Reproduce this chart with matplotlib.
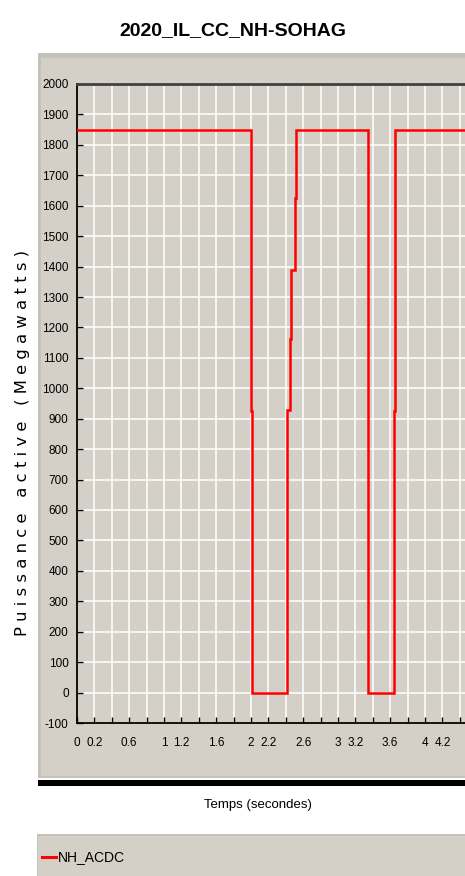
import numpy as np
import matplotlib
matplotlib.use('Agg')
import matplotlib.pyplot as plt
from matplotlib.patches import Rectangle
from matplotlib.lines import Line2D

# data (breakpoints of the step trace)
temps = [0.0, 2.000, 2.000, 2.008, 2.008, 2.410, 2.410, 2.418, 2.418, 2.441, 2.448,
         2.448, 2.456, 2.456, 2.506, 2.506, 2.521, 2.521, 3.341, 3.341, 3.347,
         3.347, 3.644, 3.644, 3.652, 3.652, 4.46]
puissance = [1850, 1850, 925, 925, 0, 0, 466, 466, 930, 930, 930,
             1162, 1162, 1390, 1390, 1625, 1625, 1850, 1850, 925, 925,
             0, 0, 925, 925, 1850, 1850]

y_ticks = list(range(-100, 2001, 100))
x_ticks = [round(0.2 * i, 1) for i in range(23)]
x_shown = ['0', '0.2', '0.6', '1', '1.2', '1.6', '2', '2.2', '2.6', '3', '3.2', '3.6', '4', '4.2']

titre = '2020_IL_CC_NH-SOHAG'
ylabel = 'Puissance active (Megawatts)'
xlabel = 'Temps (secondes)'
serie = 'NH_ACDC'

plt.rcParams['font.family'] = ['Liberation Sans', 'DejaVu Sans']

W, H = 465, 876
gris = '#d4d0c8'

fig = plt.figure(figsize=(W / 100, H / 100), dpi=100)
fig.patch.set_facecolor('white')

def fx(px):
    return px / W

def fy(py):
    return 1 - py / H

def fond(x0, y0, x1, y1, couleur):
    fig.patches.append(Rectangle((fx(x0), fy(y1)), fx(x1) - fx(x0), fy(y0) - fy(y1),
                                 transform=fig.transFigure, facecolor=couleur,
                                 edgecolor='none', zorder=-5))

# grey panel behind the plot, black bar, legend panel
fond(38, 53, W, 778, '#c4c2bd')
fond(41, 58, W, 776, gris)
fond(38, 780, W, 786, 'black')
fond(37, 834, W, H, '#c4c2bd')
fond(38, 836, W, H, gris)

ax = fig.add_axes([fx(77), fy(723), fx(W - 77), fy(84) - fy(723)], zorder=2)
ax.set_facecolor(gris)
ax.plot(temps, puissance, color='#ff0000', lw=1.8, solid_joinstyle='miter', zorder=3)

ax.set_xlim(0, 4.46)
ax.set_ylim(-100, 2000)
ax.set_yticks(y_ticks)
ax.set_yticklabels([str(v) for v in y_ticks])
ax.set_xticks(x_ticks)
ax.set_xticklabels([('%g' % v) if ('%g' % v) in x_shown else '' for v in x_ticks])
ax.grid(True, color='white', lw=1.1)
ax.set_axisbelow(True)
ax.tick_params(axis='both', direction='in', length=4, width=1, colors='black',
               labelsize=8.5, pad=6)
ax.tick_params(axis='x', pad=10)
for s in ['left', 'bottom']:
    ax.spines[s].set_color('black')
    ax.spines[s].set_linewidth(1.3)
ax.spines['top'].set_color('#404040')
ax.spines['top'].set_linewidth(2)
ax.spines['right'].set_visible(False)

fig.text(0.5, fy(31), titre, ha='center', va='center', fontsize=14, fontweight='bold')
fig.text(fx(258), fy(805), xlabel, ha='center', va='center', fontsize=9.5)
fig.text(fx(23), fy(443), ' '.join(ylabel), ha='center', va='center', rotation=90,
         fontsize=11.8, family=['DejaVu Sans'])

fig.lines.append(Line2D([fx(42), fx(56)], [fy(857), fy(857)], transform=fig.transFigure,
                        color='#ff0000', lw=2.2))
fig.text(fx(58), fy(857), serie, ha='left', va='center', fontsize=10)

fig.savefig('out.png', dpi=100, facecolor='white')
